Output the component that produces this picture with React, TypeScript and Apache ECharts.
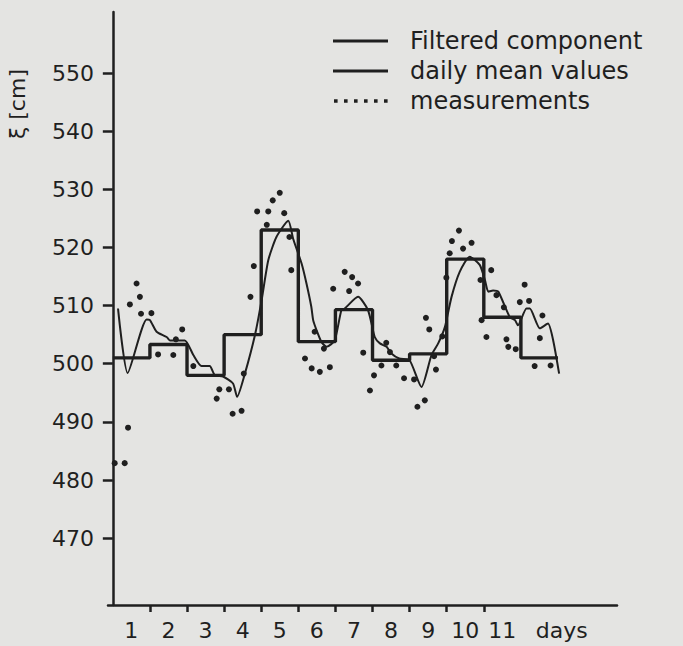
import React, { useEffect, useRef } from 'react';
import * as echarts from 'echarts';

// ---- data ----
const dailyMeans = [501, 503.3, 498, 505, 523, 503.8, 509.3, 500.6, 501.7, 518, 508, 501];

const filteredDays = [
  0.14, 0.4, 0.91, 1.0, 1.18, 1.45, 1.54, 1.94, 2.17, 2.39, 2.61, 2.75, 2.97, 3.24, 3.35,
  3.56, 3.83, 4.01, 4.19, 4.41, 4.73, 4.86, 5.09, 5.22, 5.35, 5.4, 5.49, 5.62, 5.76, 5.98,
  6.16, 6.25, 6.61, 6.88, 7.06, 7.2, 7.38, 7.5, 7.72, 8.0, 8.32, 8.59, 8.77, 8.95, 9.13,
  9.35, 9.62, 9.89, 10.03, 10.12, 10.25, 10.39, 10.7, 10.84, 10.92, 11.15, 11.24, 11.51,
  11.73, 11.87, 12.03,
];
const filteredValues = [
  509.5, 498.4, 507.6, 507.5, 505.5, 504.6, 504.0, 504.0, 501.5, 499.6, 499.6, 498.0, 497.8, 496.6, 494.3,
  498.3, 504.9, 510.9, 517.8, 521.8, 524.6, 521.5, 517.2, 513.8, 509.8, 507.5, 505.8, 503.8, 502.9, 504.0,
  509.2, 509.5, 511.5, 509.2, 504.6, 503.5, 502.9, 501.8, 500.9, 500.6, 496.0, 501.5, 503.5, 506.3, 511.5,
  515.8, 518.4, 517.0, 514.4, 512.4, 512.6, 512.4, 508.0, 507.5, 506.6, 509.5, 509.5, 506.1,
  506.9, 504.0, 498.3,
];

const measDays = [
  0.05, 0.32, 0.41, 0.46, 0.64, 0.73, 0.76, 1.04, 1.22, 1.63, 1.7, 1.87, 2.17, 2.8, 2.87,
  3.13, 3.23, 3.47, 3.53, 3.71, 3.8, 3.89, 4.15, 4.19, 4.31, 4.5, 4.62, 4.76, 4.81, 5.18,
  5.36, 5.44, 5.58, 5.69, 5.85, 5.94, 6.25, 6.37, 6.45, 6.61, 6.75, 6.93, 7.04, 7.24, 7.37,
  7.47, 7.64, 7.85, 8.12, 8.21, 8.41, 8.44, 8.53, 8.66, 8.71, 8.88, 8.99, 9.08, 9.14, 9.33,
  9.44, 9.67, 9.91, 9.94, 10.07, 10.2, 10.34, 10.54, 10.61, 10.66, 10.86, 10.97, 11.1, 11.22,
  11.37, 11.51, 11.58, 11.8,
];
const measValues = [
  482.9, 482.9, 489.0, 510.2, 513.8, 511.5, 508.6, 508.7, 501.6, 501.5, 504.2, 505.9, 499.6, 494.0, 495.6,
  495.6, 491.4, 491.9, 498.3, 511.5, 516.8, 526.2, 523.9, 526.2, 528.1, 529.4, 525.9, 521.8, 516.1, 500.9,
  499.2, 505.5, 498.6, 502.6, 499.4, 512.9, 515.8, 512.5, 514.9, 513.8, 501.9, 495.4, 498.0, 499.7, 503.6,
  502.0, 499.7, 497.5, 497.3, 492.6, 493.7, 507.9, 505.9, 501.3, 499.0, 504.7, 514.8, 519.0, 521.1, 522.9,
  519.8, 520.8, 514.4, 507.5, 504.6, 516.1, 511.8, 509.7, 504.2, 502.9, 502.5, 510.6, 513.6, 510.8,
  499.6, 504.4, 508.3, 499.7,
];

const yTickValues = [470, 480, 490, 500, 510, 520, 530, 540, 550];
const xTickDays = [1, 2, 3, 4, 5, 6, 7, 8, 9, 10];
const xLabels = ['1', '2', '3', '4', '5', '6', '7', '8', '9', '10', '11', 'days'];
const xLabelDays = [0.5, 1.5, 2.5, 3.5, 4.5, 5.5, 6.5, 7.5, 8.5, 9.5, 10.5, 12.1];

const seriesNames = ['Filtered component', 'daily mean values', 'measurements'];
const yAxisTitle = 'ξ [cm]';

const INK = '#1f1f1f';
const BG = '#e4e4e2';
const FONT = 'DejaVu Sans';

const lineIcon = 'path://M0,0M55,14M0,5.5h55v3h-55z';
const dotsIcon =
  'path://M0,0M55,14' +
  [1, 11, 21, 31, 41, 51].map((x) => `M${x},5.2h3.6v3.6h-3.6z`).join('');

export default function App() {
  const ref = useRef<HTMLDivElement>(null);

  useEffect(() => {
    if (!ref.current) return;
    const chart = echarts.init(ref.current, null, { renderer: 'svg' });

    const stepData: number[][] = dailyMeans.map((v, i) => [i, v]);
    stepData.push([dailyMeans.length, dailyMeans[dailyMeans.length - 1]]);

    const nearestLabel = (v: number) => {
      let best = 0;
      for (let i = 1; i < xLabelDays.length; i++) {
        if (Math.abs(xLabelDays[i] - v) < Math.abs(xLabelDays[best] - v)) best = i;
      }
      return xLabels[best];
    };

    chart.setOption({
      animation: false,
      backgroundColor: BG,
      textStyle: { fontFamily: FONT, color: INK },
      grid: { left: 108, right: 66, top: 12, bottom: 41, outerBoundsMode: 'none' },
      legend: {
        orient: 'vertical',
        left: 328,
        top: 24,
        itemWidth: 55,
        itemHeight: 14,
        itemGap: 6,
        selectedMode: false,
        itemStyle: { color: INK, borderWidth: 0 },
        textStyle: { fontSize: 24, color: INK, fontFamily: FONT, lineHeight: 24, padding: [0, 0, 0, 17] },
        data: [
          { name: seriesNames[0], icon: lineIcon },
          { name: seriesNames[1], icon: lineIcon },
          { name: seriesNames[2], icon: dotsIcon },
        ],
      },
      graphic: [
        {
          type: 'text',
          x: 17,
          y: 104,
          rotation: Math.PI / 2,
          style: {
            text: yAxisTitle,
            fontSize: 22,
            fontFamily: FONT,
            fill: INK,
            align: 'center',
            verticalAlign: 'middle',
          },
        },
      ],
      xAxis: {
        type: 'value',
        min: -0.13,
        max: 13.59,
        splitLine: { show: false },
        axisLine: { show: true, lineStyle: { color: INK, width: 2.5 } },
        axisTick: { show: true, length: 7, customValues: xTickDays, lineStyle: { color: INK, width: 2.5 } },
        axisLabel: {
          customValues: xLabelDays,
          formatter: (v: number) => nearestLabel(v),
          fontSize: 22,
          fontFamily: FONT,
          color: INK,
          margin: 14,
        },
      },
      yAxis: {
        type: 'value',
        min: 458.5,
        max: 560.5,
        splitLine: { show: false },
        axisLine: { show: true, lineStyle: { color: INK, width: 2.5 } },
        axisTick: { show: true, length: 10, customValues: yTickValues, lineStyle: { color: INK, width: 2.5 } },
        axisLabel: {
          customValues: yTickValues,
          fontSize: 22,
          fontFamily: FONT,
          color: INK,
          margin: 14,
        },
      },
      series: [
        {
          name: seriesNames[0],
          type: 'line',
          symbol: 'none',
          smooth: 0.2,
          data: filteredDays.map((d, i) => [d, filteredValues[i]]),
          lineStyle: { color: INK, width: 2 },
          itemStyle: { color: INK },
          z: 3,
        },
        {
          name: seriesNames[1],
          type: 'line',
          symbol: 'none',
          step: 'end',
          data: stepData,
          lineStyle: { color: INK, width: 3.4 },
          itemStyle: { color: INK },
          z: 2,
        },
        {
          name: seriesNames[2],
          type: 'scatter',
          symbol: 'circle',
          symbolSize: 6,
          data: measDays.map((d, i) => [d, measValues[i]]),
          itemStyle: { color: INK, opacity: 1 },
          z: 4,
        },
      ],
    });

    return () => chart.dispose();
  }, []);

  return (
    <div
      ref={ref}
      style={{ position: 'fixed', left: 0, top: 0, width: 683, height: 646 }}
    />
  );
}
